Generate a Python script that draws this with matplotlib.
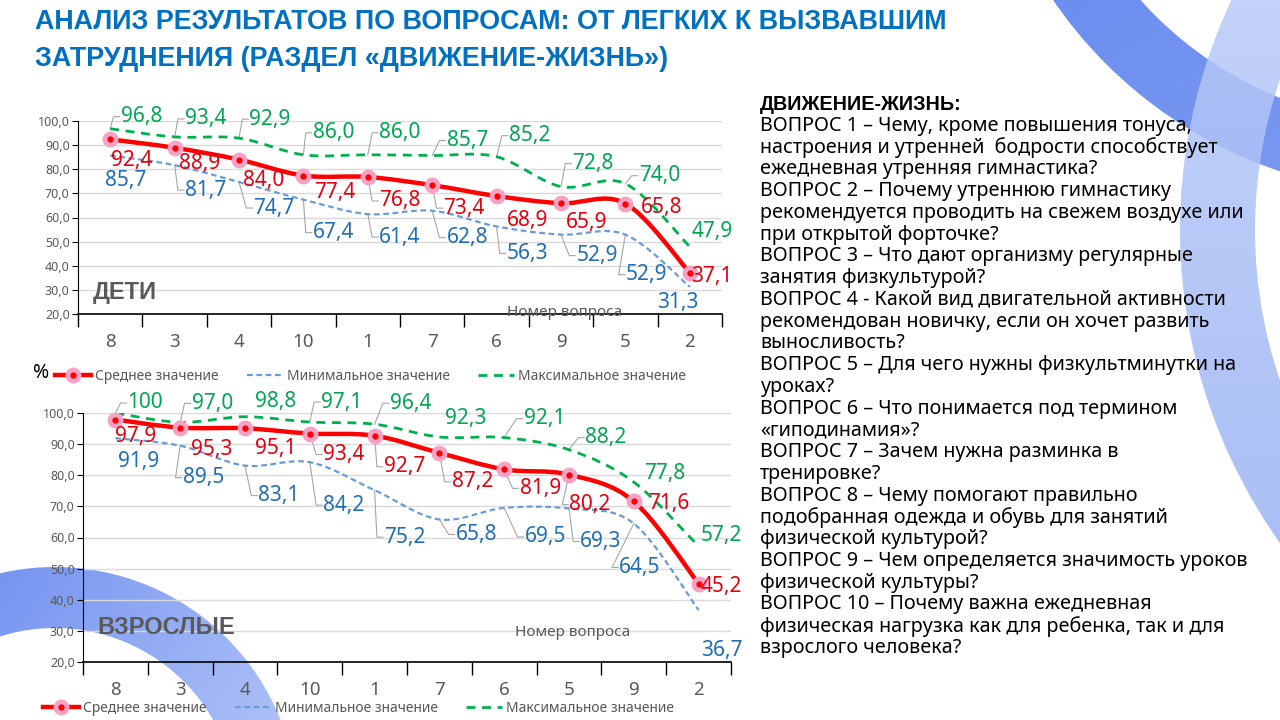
import numpy as np
import matplotlib
matplotlib.use("Agg")
import matplotlib.pyplot as plt
from matplotlib.path import Path
from matplotlib.patches import PathPatch, Wedge
from matplotlib.lines import Line2D
from matplotlib.colors import LinearSegmentedColormap
from matplotlib.ticker import FuncFormatter

plt.rcParams["font.family"] = ["Noto Sans", "DejaVu Sans"]
BOLD_FAMILY = ["Liberation Sans Narrow", "Liberation Sans", "DejaVu Sans"]

# ---------------------------------------------------------------- data ----
KIDS_Q = ["8", "3", "4", "10", "1", "7", "6", "9", "5", "2"]
KIDS_MEAN = [92.4, 88.9, 84.0, 77.4, 76.8, 73.4, 68.9, 65.9, 65.8, 37.1]
KIDS_MIN = [85.7, 81.7, 74.7, 67.4, 61.4, 62.8, 56.3, 52.9, 52.9, 31.3]
KIDS_MAX = [96.8, 93.4, 92.9, 86.0, 86.0, 85.7, 85.2, 72.8, 74.0, 47.9]

ADULT_Q = ["8", "3", "4", "10", "1", "7", "6", "5", "9", "2"]
ADULT_MEAN = [97.9, 95.3, 95.1, 93.4, 92.7, 87.2, 81.9, 80.2, 71.6, 45.2]
ADULT_MIN = [91.9, 89.5, 83.1, 84.2, 75.2, 65.8, 69.5, 69.3, 64.5, 36.7]
ADULT_MAX = [100, 97.0, 98.8, 97.1, 96.4, 92.3, 92.1, 88.2, 77.8, 57.2]

SERIES_NAMES = ["Среднее значение", "Минимальное значение", "Максимальное значение"]

TITLE_LINES = [
    "АНАЛИЗ РЕЗУЛЬТАТОВ ПО ВОПРОСАМ: ОТ ЛЕГКИХ К ВЫЗВАВШИМ",
    "ЗАТРУДНЕНИЯ (РАЗДЕЛ «ДВИЖЕНИЕ-ЖИЗНЬ»)",
]

QUESTION_LINES = [
    "ДВИЖЕНИЕ-ЖИЗНЬ:",
    "ВОПРОС 1 – Чему, кроме повышения тонуса,",
    "настроения и утренней  бодрости способствует",
    "ежедневная утренняя гимнастика?",
    "ВОПРОС 2 – Почему утреннюю гимнастику",
    "рекомендуется проводить на свежем воздухе или",
    "при открытой форточке?",
    "ВОПРОС 3 – Что дают организму регулярные",
    "занятия физкультурой?",
    "ВОПРОС 4 - Какой вид двигательной активности",
    "рекомендован новичку, если он хочет развить",
    "выносливость?",
    "ВОПРОС 5 – Для чего нужны физкультминутки на",
    "уроках?",
    "ВОПРОС 6 – Что понимается под термином",
    "«гиподинамия»?",
    "ВОПРОС 7 – Зачем нужна разминка в",
    "тренировке?",
    "ВОПРОС 8 – Чему помогают правильно",
    "подобранная одежда и обувь для занятий",
    "физической культурой?",
    "ВОПРОС 9 – Чем определяется значимость уроков",
    "физической культуры?",
    "ВОПРОС 10 – Почему важна ежедневная",
    "физическая нагрузка как для ребенка, так и для",
    "взрослого человека?",
]

# ------------------------------------------------- label layout (pixels) ----
# (dx, dy) from the point, dy downwards; leader flags per label
KIDS_OFF = {
    "max": [(31, -12), (31, -18), (31, -19), (30, -22), (32, -22),
            (35, -15), (33, -21), (32, -23), (34, -8), (22, -15)],
    "mean": [(21, 21), (25, 16), (25, 21), (31, 17), (32, 24),
             (32, 23), (31, 24), (26, 19), (36, 4), (22, 4)],
    "min": [(15, 25), (31, 25), (35, 26), (30, 33), (32, 23),
            (35, 27), (31, 27), (36, 21), (21, 40), (-12, 16)],
}
KIDS_LEAD = {"max": "1111111110", "mean": "0000110000", "min": "0111111110"}

ADULT_OFF = {
    "max": [(30, -10), (32, -19), (31, -15), (32, -20), (36, -21),
            (26, -18), (40, -19), (37, -12), (31, -9), (23, -11)],
    "mean": [(20, 17), (32, 22), (31, 20), (34, 21), (30, 31),
             (33, 29), (36, 19), (21, 30), (35, 2), (23, 3)],
    "min": [(23, 23), (23, 32), (34, 30), (34, 43), (30, 47),
            (37, 15), (41, 29), (32, 33), (6, 44), (23, 40)],
}
ADULT_LEAD = {"max": "1101101100", "mean": "0001111100", "min": "0111111110"}

RED, RED_TXT, PINK = "#FF0000", "#E3000F", "#F7A1C4"
BLUE, BLUE_TXT = "#6A9BD8", "#1E6EB8"
GREEN, GREEN_TXT = "#00B050", "#00A651"
GRAY_TXT = "#595959"
TITLE_BLUE = "#0070C0"

W, H = 1280, 720
fig = plt.figure(figsize=(W / 100, H / 100), dpi=100, facecolor="white")
renderer = fig.canvas.get_renderer()


def frac_rect(l, t, r, b):
    return [l / W, 1 - b / H, (r - l) / W, (b - t) / H]


def fit_width(txt, target_px):
    w = txt.get_window_extent(renderer).width
    txt.set_fontsize(txt.get_fontsize() * target_px / w)


def fmt(v):
    return "100" if v >= 100 else f"{v:.1f}".replace(".", ",")


# ---------------------------------------------------- background arcs ----
bg = fig.add_axes([0, 0, 1, 1], zorder=0)
bg.axis("off")


def ring(cx, cy, r_in, r_out, colors, angle, alpha=1.0):
    patch = Wedge((cx, cy), r_out, 0, 360, width=r_out - r_in,
                  facecolor="none", edgecolor="none")
    bg.add_patch(patch)
    yy, xx = np.mgrid[0:1:200j, 0:1:200j]
    a = np.deg2rad(angle)
    g = xx * np.cos(a) + yy * np.sin(a)
    im = bg.imshow(g, cmap=LinearSegmentedColormap.from_list("b", colors),
                   extent=(cx - r_out, cx + r_out, cy + r_out, cy - r_out),
                   alpha=alpha, aspect="auto", interpolation="bilinear")
    im.set_clip_path(patch)


ring(1420, -250, 375, 444, ["#4f78ec", "#86a2f2"], 60)
ring(1720, 230, 465, 540, ["#c9d7fa", "#8eaaf2"], 90, alpha=0.85)
ring(55, 810, 182, 243, ["#5b7fee", "#d0dcfa"], 35)
bg.set_xlim(0, W)
bg.set_ylim(H, 0)

# ------------------------------------------------------------ titles ----
for i, line in enumerate(TITLE_LINES):
    t = fig.text(35 / W, 1 - (22 + 37 * i) / H, line, fontsize=20,
                 family=BOLD_FAMILY, fontweight="bold", color=TITLE_BLUE,
                 va="center", ha="left")
    if i == 0:
        fit_width(t, 913)
        title_fs = t.get_fontsize()
    else:
        t.set_fontsize(title_fs)

q_texts = []
for i, line in enumerate(QUESTION_LINES):
    q_texts.append(fig.text(760 / W, 1 - (104 + 21.76 * i) / H, line,
                            fontsize=13, color="black", va="center"))
fit_width(q_texts[5], 484)
for t in q_texts:
    t.set_fontsize(q_texts[5].get_fontsize())
q_texts[0].set_family(["Liberation Sans", "DejaVu Sans"])
q_texts[0].set_fontweight("bold")


# ------------------------------------------------------------- charts ----
def smooth_path(xs, ys):
    pts = np.column_stack([xs, ys]).astype(float)
    n = len(pts)
    verts, codes = [pts[0]], [Path.MOVETO]
    for i in range(n - 1):
        p0 = pts[max(i - 1, 0)]
        p1, p2 = pts[i], pts[i + 1]
        p3 = pts[min(i + 2, n - 1)]
        verts += [p1 + (p2 - p0) / 6, p2 - (p3 - p1) / 6, p2]
        codes += [Path.CURVE4] * 3
    return Path(verts, codes)


def draw_chart(rect, cats, mean, vmin, vmax, offs, leads, tag, tag_xy, xt_xy):
    ax = fig.add_axes(frac_rect(*rect), zorder=2)
    ax.patch.set_alpha(0)
    x = np.arange(len(cats))
    ax.set_xlim(-0.5, len(cats) - 0.5)
    ax.set_ylim(20, 100)

    ax.set_yticks(np.arange(20, 101, 10))
    ax.yaxis.set_major_formatter(FuncFormatter(lambda v, _: f"{v:.1f}".replace(".", ",")))
    ax.tick_params(axis="y", labelsize=9, labelcolor=GRAY_TXT, length=4,
                   width=0.8, pad=2)
    ax.grid(axis="y", color="#D9D9D9", linewidth=1.0)
    ax.set_axisbelow(True)

    ax.set_xticks(np.arange(-0.5, len(cats)), labels=[""] * (len(cats) + 1))
    ax.set_xticks(x, labels=cats, minor=True)
    ax.tick_params(axis="x", which="major", length=9, width=1.0, direction="out")
    ax.tick_params(axis="x", which="minor", length=0, labelsize=13.5,
                   labelcolor=GRAY_TXT, pad=14)
    for s in ("top", "right"):
        ax.spines[s].set_visible(False)
    ax.spines["left"].set_linewidth(0.8)
    ax.spines["bottom"].set_linewidth(1.2)

    ax.add_patch(PathPatch(smooth_path(x, vmax), fill=False, edgecolor=GREEN,
                           linewidth=2.0, linestyle=(0, (3.2, 2.4)), zorder=3))
    ax.add_patch(PathPatch(smooth_path(x, vmin), fill=False, edgecolor=BLUE,
                           linewidth=1.6, linestyle=(0, (2.6, 1.6)), zorder=3))
    ax.add_patch(PathPatch(smooth_path(x, mean), fill=False, edgecolor=RED,
                           linewidth=3.2, zorder=4))
    ax.plot(x, mean, linestyle="none", marker="o", markersize=8,
            markerfacecolor=RED, markeredgecolor=PINK, markeredgewidth=3.4,
            zorder=5)

    for key, vals, col in (("max", vmax, GREEN_TXT), ("mean", mean, RED_TXT),
                           ("min", vmin, BLUE_TXT)):
        for i, v in enumerate(vals):
            dx, dy = offs[key][i]
            t = ax.annotate(fmt(v), (i, v), xytext=(dx, -dy),
                            textcoords="offset pixels", ha="center",
                            va="center", fontsize=15, color=col, zorder=6,
                            annotation_clip=False)
            if leads[key][i] == "1":
                bb = t.get_window_extent(renderer)
                px, py = ax.transData.transform((i, v))
                lx, ly = bb.x0 - 1, (bb.y0 + bb.y1) / 2
                seg = ax.transData.inverted().transform(
                    [(px, py), (min(lx - 6, px + 14), ly), (lx, ly)])
                ax.plot(seg[:, 0], seg[:, 1], color="#A6A6A6", linewidth=0.8,
                        clip_on=False, zorder=2)

    ax.text(tag_xy[0] / W, 1 - tag_xy[1] / H, tag, transform=fig.transFigure,
            fontsize=17, family=BOLD_FAMILY, fontweight="bold",
            color=GRAY_TXT, va="center")
    ax.text(xt_xy[0] / W, 1 - xt_xy[1] / H, "Номер вопроса",
            transform=fig.transFigure, fontsize=11, color=GRAY_TXT,
            ha="center", va="center")
    return ax


draw_chart((78, 121, 722, 314), KIDS_Q, KIDS_MEAN, KIDS_MIN, KIDS_MAX,
           KIDS_OFF, KIDS_LEAD, "ДЕТИ", (93, 293), (565, 312))
draw_chart((83, 413, 731, 662), ADULT_Q, ADULT_MEAN, ADULT_MIN, ADULT_MAX,
           ADULT_OFF, ADULT_LEAD, "ВЗРОСЛЫЕ", (97, 628), (573, 633))

# ------------------------------------------------------------ legends ----
handles = [
    Line2D([], [], color=RED, linewidth=3.2, marker="o", markersize=8,
           markerfacecolor=RED, markeredgecolor=PINK, markeredgewidth=3.4),
    Line2D([], [], color=BLUE, linewidth=1.6, linestyle=(0, (2.6, 1.6))),
    Line2D([], [], color=GREEN, linewidth=2.0, linestyle=(0, (3.2, 2.4))),
]
for x0, y0 in ((55, 376), (43, 708)):
    leg = fig.legend(handles, SERIES_NAMES, loc="center left",
                     bbox_to_anchor=(x0 / W, 1 - y0 / H), ncol=3,
                     frameon=False, fontsize=10, handlelength=2.6,
                     handletextpad=0.3, columnspacing=2.0, borderpad=0,
                     borderaxespad=0)
    for txt in leg.get_texts():
        txt.set_color(GRAY_TXT)

fig.text(41 / W, 1 - 373 / H, "%", fontsize=14, color="black",
         ha="center", va="center")

fig.savefig("out.png", dpi=100, facecolor="white")
